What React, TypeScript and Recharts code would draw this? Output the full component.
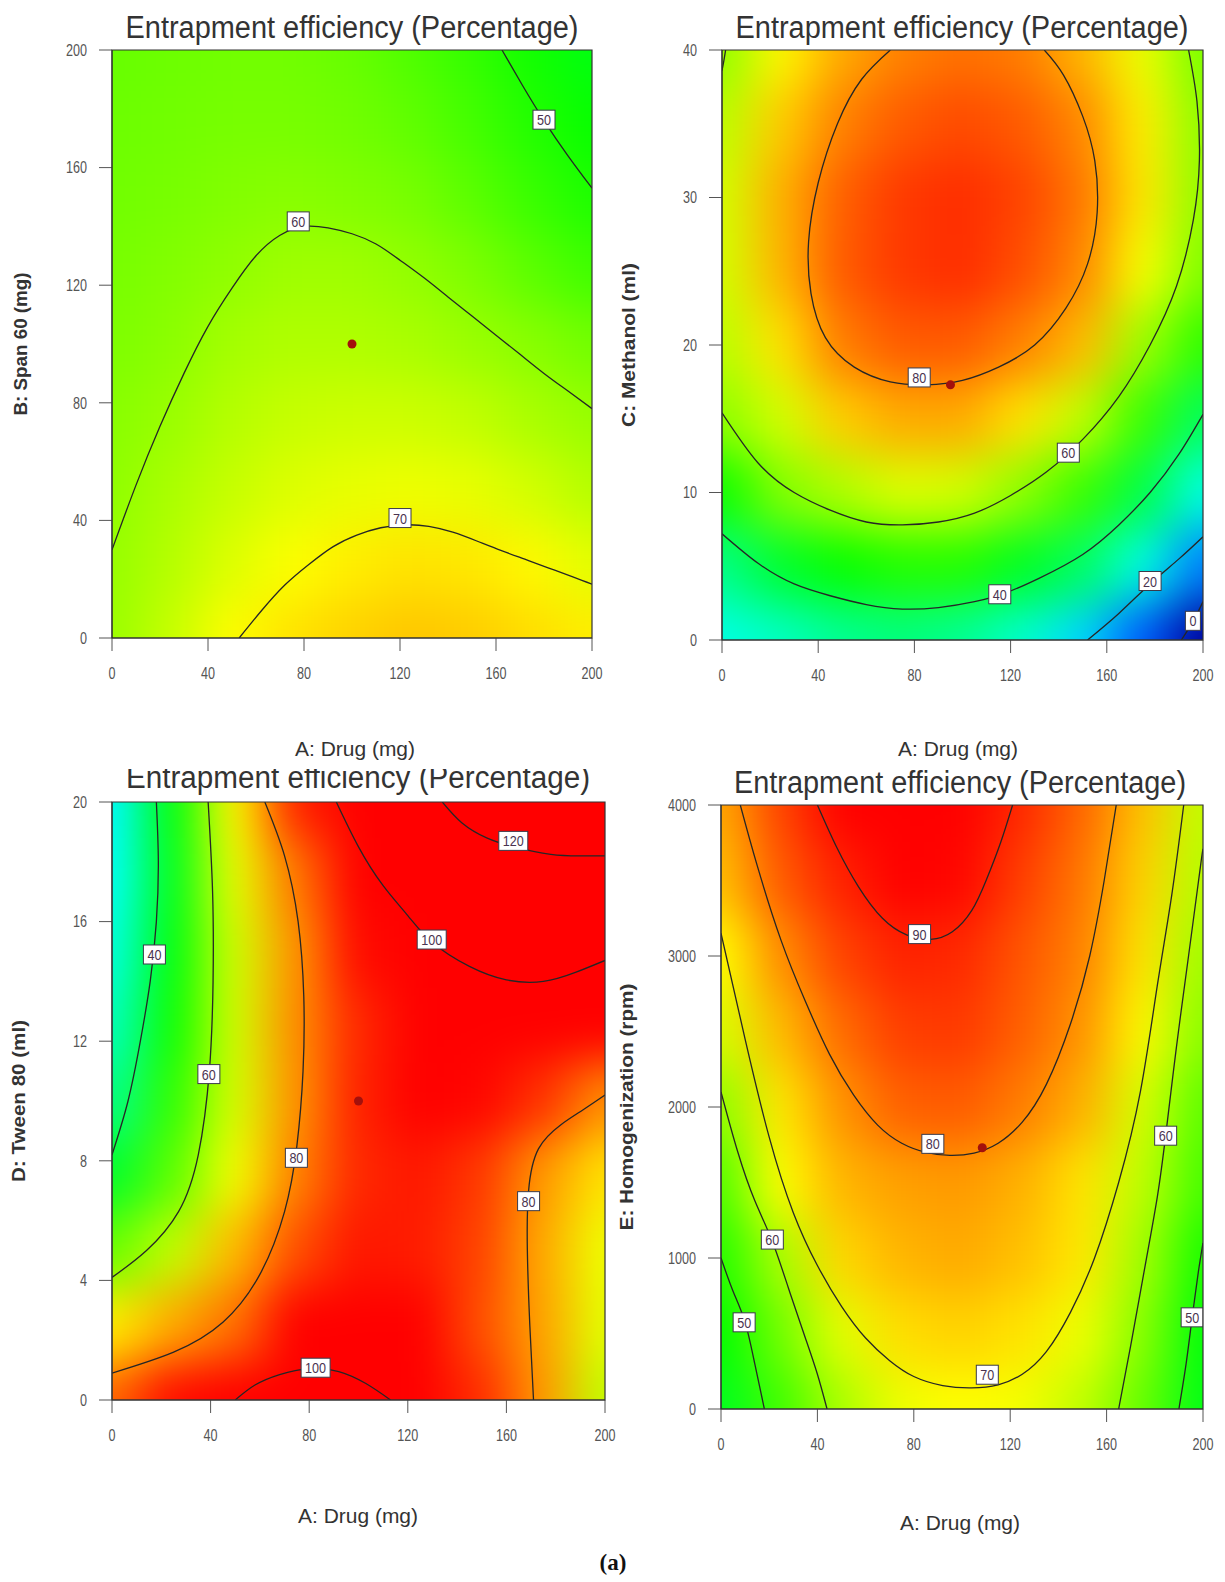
import React from 'react';
import { ComposedChart, XAxis, YAxis, Scatter, ReferenceArea } from 'recharts';

type Pt = { x: number; y: number };
type Lbl = { x: number; y: number; t: string };

// ---------------- data ----------------
const drugTicks = [0, 40, 80, 120, 160, 200];
const spanTicks = [0, 40, 80, 120, 160, 200];
const methanolTicks = [0, 10, 20, 30, 40];
const tweenTicks = [0, 4, 8, 12, 16, 20];
const homogTicks = [0, 1000, 2000, 3000, 4000];

const gridX = [0, 25, 50, 75, 100, 125, 150, 175, 200];

// Panel 1: A Drug vs B Span 60
const p1GridY = [200, 175, 150, 125, 100, 75, 50, 25, 0];
const p1Field = [
  [56, 56.5, 57, 57, 56, 54, 51.5, 48.5, 45.5],
  [56.5, 57, 57.5, 57.5, 57, 55.5, 53, 50, 47.5],
  [57, 57.5, 58.5, 59, 58.5, 57.5, 55, 52, 49.5],
  [57.5, 58.5, 59.7, 61, 61, 60, 58, 55, 52.5],
  [58, 59.3, 61.5, 62.5, 62.5, 62, 60.6, 59, 57],
  [59, 60.5, 63, 64.5, 65, 65, 64, 62, 60.2],
  [59.5, 62, 64.5, 66.5, 67.5, 68, 67.5, 65.5, 63],
  [60.2, 63, 66.5, 69.3, 71, 72, 71.5, 70, 67],
  [60.5, 64.5, 69.7, 72, 73.5, 74.5, 74, 72.5, 71],
];
const p1C50: Pt[] = [{ x: 162.5, y: 200 }, { x: 171, y: 188 }, { x: 180, y: 176 }, { x: 190, y: 164 }, { x: 200, y: 153 }];
const p1C60: Pt[] = [
  { x: 0, y: 30 }, { x: 10, y: 52 }, { x: 20, y: 72 }, { x: 30, y: 90 }, { x: 40, y: 106 }, { x: 50, y: 119 },
  { x: 60, y: 130 }, { x: 70, y: 137 }, { x: 80, y: 140 }, { x: 90, y: 139.5 }, { x: 100, y: 137.5 }, { x: 110, y: 134 },
  { x: 120, y: 128.5 }, { x: 130, y: 122.5 }, { x: 140, y: 116 }, { x: 150, y: 109.5 }, { x: 160, y: 103 },
  { x: 170, y: 96.5 }, { x: 180, y: 90 }, { x: 190, y: 84 }, { x: 200, y: 78 },
];
const p1C70: Pt[] = [
  { x: 53, y: 0 }, { x: 62, y: 9 }, { x: 72, y: 18 }, { x: 82, y: 25 }, { x: 92, y: 31 }, { x: 102, y: 35 },
  { x: 112, y: 37.5 }, { x: 122, y: 38.5 }, { x: 132, y: 38 }, { x: 142, y: 36 }, { x: 152, y: 33 },
  { x: 162, y: 29.8 }, { x: 172, y: 26.8 }, { x: 182, y: 23.8 }, { x: 192, y: 20.8 }, { x: 200, y: 18.3 },
];
const p1Labels: Lbl[] = [{ x: 180, y: 176.3, t: '50' }, { x: 77.6, y: 141.7, t: '60' }, { x: 120, y: 40.8, t: '70' }];
const p1Center: Pt[] = [{ x: 100, y: 100 }];

// Panel 2: A Drug vs C Methanol
const p2GridY = [40, 35, 30, 25, 20, 15, 10, 5, 0];
const p2Field = [
  [59.5, 70, 77, 80.5, 82, 81, 76, 68, 57.5],
  [63.5, 74, 80.5, 84, 85.5, 84, 80, 71, 59.5],
  [65.5, 76.5, 83.5, 87, 88, 86, 81.5, 71.5, 59.8],
  [65.5, 76, 84, 87, 88, 85, 80, 69, 58],
  [63.5, 72, 81, 84, 84, 80.5, 75.5, 61, 51],
  [59.5, 65.5, 74, 77, 77, 72, 64, 52, 39],
  [48, 58.5, 62.5, 66.5, 65.5, 59.5, 52, 41, 27],
  [35, 43, 47.5, 50, 50, 44, 38.5, 27, 13],
  [27, 30, 34, 36, 34, 29, 21, 10, -8],
];
const p2C80: Pt[] = [
  { x: 70, y: 40 }, { x: 58, y: 38 }, { x: 48, y: 35 }, { x: 40, y: 31 }, { x: 36, y: 27 }, { x: 37, y: 23.5 },
  { x: 43, y: 20.5 }, { x: 55, y: 18.5 }, { x: 70, y: 17.5 }, { x: 85, y: 17.3 }, { x: 100, y: 17.6 },
  { x: 115, y: 18.5 }, { x: 130, y: 20 }, { x: 143, y: 22.5 }, { x: 152, y: 25.5 }, { x: 156, y: 29 },
  { x: 155, y: 32.5 }, { x: 150, y: 35.5 }, { x: 142, y: 38.3 }, { x: 134, y: 40 },
];
const p2C60: Pt[] = [
  { x: 0, y: 15.4 }, { x: 15, y: 12 }, { x: 30, y: 10 }, { x: 45, y: 8.8 }, { x: 60, y: 8 }, { x: 75, y: 7.8 },
  { x: 90, y: 8 }, { x: 105, y: 8.6 }, { x: 120, y: 9.8 }, { x: 135, y: 11.4 }, { x: 150, y: 13.6 },
  { x: 165, y: 16.5 }, { x: 178, y: 20 }, { x: 189, y: 24 }, { x: 196, y: 28.5 }, { x: 198.5, y: 32.5 },
  { x: 197.5, y: 36.5 }, { x: 194, y: 40 },
];
const p2C60b: Pt[] = [{ x: 0, y: 38.6 }, { x: 0.8, y: 39.3 }, { x: 1.5, y: 40 }];
const p2C40: Pt[] = [
  { x: 0, y: 7.2 }, { x: 15, y: 5.2 }, { x: 30, y: 3.8 }, { x: 45, y: 3 }, { x: 60, y: 2.4 }, { x: 75, y: 2.1 },
  { x: 90, y: 2.2 }, { x: 105, y: 2.6 }, { x: 118, y: 3.2 }, { x: 132, y: 4.2 }, { x: 150, y: 5.8 },
  { x: 165, y: 7.8 }, { x: 178, y: 10 }, { x: 190, y: 12.6 }, { x: 200, y: 15.3 },
];
const p2C20: Pt[] = [{ x: 152, y: 0 }, { x: 165, y: 1.8 }, { x: 178, y: 3.8 }, { x: 190, y: 5.5 }, { x: 200, y: 7 }];
const p2C0: Pt[] = [{ x: 191, y: 0 }, { x: 196, y: 1.3 }, { x: 200, y: 2.6 }];
const p2Labels: Lbl[] = [
  { x: 82, y: 17.8, t: '80' }, { x: 144, y: 12.7, t: '60' }, { x: 115.5, y: 3.1, t: '40' },
  { x: 178, y: 4, t: '20' }, { x: 195.8, y: 1.3, t: '0' },
];
const p2Center: Pt[] = [{ x: 95, y: 17.3 }];

// Panel 3: A Drug vs D Tween 80
const p3GridY = [20, 17.5, 15, 12.5, 10, 7.5, 5, 2.5, 0];
const p3Field = [
  [24, 46, 70, 89, 104.5, 115.5, 123, 127, 129],
  [25, 45, 67.5, 81.5, 97.5, 105, 111, 115, 117],
  [27, 46, 65.5, 79, 91, 97.5, 102, 102, 101],
  [30, 48, 65.5, 79.5, 88.5, 93, 95, 95, 93],
  [35, 51, 66, 79, 89, 92.5, 91.5, 87.5, 79.5],
  [43, 55, 68.5, 80.5, 88.5, 90, 87, 78.5, 72],
  [56, 64, 75.5, 85, 90, 89.5, 86, 77, 68],
  [71, 77, 82, 92, 95, 92, 85, 77.5, 67],
  [83, 91, 100, 102.5, 102, 97, 88, 78.5, 64],
];
const p3C40: Pt[] = [{ x: 18, y: 20 }, { x: 18.8, y: 18 }, { x: 18, y: 16 }, { x: 15.5, y: 14 }, { x: 11.5, y: 12 }, { x: 6.5, y: 10 }, { x: 0, y: 8.2 }];
const p3C60: Pt[] = [{ x: 39, y: 20 }, { x: 40.8, y: 17 }, { x: 41, y: 14 }, { x: 39.5, y: 11 }, { x: 35, y: 8.2 }, { x: 27, y: 6.3 }, { x: 14, y: 5 }, { x: 0, y: 4.1 }];
const p3C80a: Pt[] = [
  { x: 62, y: 20 }, { x: 70, y: 18.2 }, { x: 75.5, y: 16 }, { x: 77.8, y: 13.5 }, { x: 77.5, y: 11 }, { x: 75, y: 8.5 },
  { x: 70, y: 6.3 }, { x: 60, y: 4.2 }, { x: 45, y: 2.6 }, { x: 25, y: 1.6 }, { x: 0, y: 0.9 },
];
const p3C80b: Pt[] = [{ x: 171, y: 0 }, { x: 169.5, y: 2.5 }, { x: 168.5, y: 5 }, { x: 169, y: 7 }, { x: 173, y: 8.4 }, { x: 182, y: 9.2 }, { x: 191, y: 9.7 }, { x: 200, y: 10.2 }];
const p3C100a: Pt[] = [{ x: 50, y: 0 }, { x: 58, y: 0.5 }, { x: 68, y: 0.85 }, { x: 80, y: 1.05 }, { x: 92, y: 0.95 }, { x: 103, y: 0.55 }, { x: 113, y: 0 }];
const p3C100b: Pt[] = [
  { x: 91, y: 20 }, { x: 100, y: 18.5 }, { x: 110, y: 17.2 }, { x: 120, y: 16.2 }, { x: 130, y: 15.3 }, { x: 145, y: 14.5 },
  { x: 160, y: 14.05 }, { x: 175, y: 14 }, { x: 188, y: 14.3 }, { x: 200, y: 14.7 },
];
const p3C120: Pt[] = [{ x: 134, y: 20 }, { x: 142, y: 19.3 }, { x: 152, y: 18.8 }, { x: 163, y: 18.5 }, { x: 178, y: 18.25 }, { x: 190, y: 18.2 }, { x: 200, y: 18.2 }];
const p3Labels: Lbl[] = [
  { x: 162.8, y: 18.7, t: '120' }, { x: 129.7, y: 15.4, t: '100' }, { x: 17.2, y: 14.9, t: '40' }, { x: 39.3, y: 10.9, t: '60' },
  { x: 74.8, y: 8.1, t: '80' }, { x: 169, y: 6.65, t: '80' }, { x: 82.6, y: 1.08, t: '100' },
];
const p3Center: Pt[] = [{ x: 100, y: 10 }];

// Panel 4: A Drug vs E Homogenization
const p4GridY = [4000, 3500, 3000, 2500, 2000, 1500, 1000, 500, 0];
const p4Field = [
  [77, 86, 92, 95, 94, 88.5, 83, 75, 64],
  [75, 84, 89, 92.5, 91.5, 86.5, 81.5, 73.5, 63],
  [69.5, 79.5, 86, 89, 88.5, 84.5, 80.5, 72, 61],
  [66, 75.5, 82.5, 86.5, 87, 83.5, 79, 70, 59],
  [59.5, 71.5, 79, 83.5, 84, 81, 76.5, 66, 55],
  [54, 69.5, 76, 78, 78.5, 76.5, 72, 64, 53],
  [50, 62, 73, 76, 77, 75, 71.5, 61.5, 49],
  [47, 57, 67, 72.5, 73.5, 72, 68, 59, 46],
  [44, 52.5, 62, 68, 69.5, 68.5, 64, 56, 45],
];
const p4C90: Pt[] = [
  { x: 40, y: 4000 }, { x: 48, y: 3720 }, { x: 57, y: 3460 }, { x: 67, y: 3250 }, { x: 77, y: 3140 }, { x: 87, y: 3110 },
  { x: 96, y: 3160 }, { x: 104, y: 3300 }, { x: 110, y: 3500 }, { x: 116, y: 3750 }, { x: 121, y: 4000 },
];
const p4C80: Pt[] = [
  { x: 8, y: 4000 }, { x: 15, y: 3600 }, { x: 25, y: 3100 }, { x: 35, y: 2700 }, { x: 45, y: 2350 }, { x: 55, y: 2080 },
  { x: 65, y: 1880 }, { x: 75, y: 1760 }, { x: 85, y: 1700 }, { x: 95, y: 1680 }, { x: 105, y: 1695 }, { x: 115, y: 1760 },
  { x: 125, y: 1900 }, { x: 135, y: 2150 }, { x: 145, y: 2550 }, { x: 153, y: 3000 }, { x: 159, y: 3500 }, { x: 164, y: 4000 },
];
const p4C70: Pt[] = [
  { x: 0, y: 3150 }, { x: 10, y: 2450 }, { x: 20, y: 1800 }, { x: 30, y: 1300 }, { x: 40, y: 950 }, { x: 50, y: 680 },
  { x: 60, y: 470 }, { x: 70, y: 320 }, { x: 80, y: 215 }, { x: 92, y: 155 }, { x: 104, y: 140 }, { x: 115, y: 160 },
  { x: 125, y: 230 }, { x: 135, y: 380 }, { x: 145, y: 640 }, { x: 155, y: 1000 }, { x: 165, y: 1500 }, { x: 174, y: 2100 },
  { x: 181, y: 2800 }, { x: 187, y: 3400 }, { x: 192, y: 4000 },
];
const p4C60L: Pt[] = [{ x: 0, y: 2100 }, { x: 7, y: 1700 }, { x: 14, y: 1380 }, { x: 21, y: 1122 }, { x: 28, y: 800 }, { x: 35, y: 470 }, { x: 40, y: 230 }, { x: 44, y: 0 }];
const p4C50L: Pt[] = [{ x: 0, y: 1000 }, { x: 5, y: 780 }, { x: 10, y: 574 }, { x: 14, y: 300 }, { x: 18, y: 0 }];
const p4C60R: Pt[] = [{ x: 165, y: 0 }, { x: 170, y: 420 }, { x: 176, y: 950 }, { x: 181, y: 1400 }, { x: 184.5, y: 1810 }, { x: 189, y: 2400 }, { x: 194, y: 3000 }, { x: 199, y: 3600 }, { x: 200, y: 3700 }];
const p4C50R: Pt[] = [{ x: 190, y: 0 }, { x: 193, y: 300 }, { x: 195.5, y: 607 }, { x: 198, y: 900 }, { x: 200, y: 1100 }];
const p4Labels: Lbl[] = [
  { x: 82.4, y: 3145, t: '90' }, { x: 87.9, y: 1756, t: '80' }, { x: 184.5, y: 1810, t: '60' }, { x: 21.3, y: 1122, t: '60' },
  { x: 9.6, y: 574, t: '50' }, { x: 110.5, y: 227, t: '70' }, { x: 195.5, y: 607, t: '50' },
];
const p4Center: Pt[] = [{ x: 108.4, y: 1730 }];

const titleText = 'Entrapment efficiency (Percentage)';
const xTitle = 'A: Drug (mg)';

// ---------------- helpers ----------------
function colorFor(v: number): string {
  const t = Math.max(0, Math.min(1, (v - 2) / 90));
  const hue = 240 * (1 - t);
  let light = 50;
  if (v < 10) light = Math.max(30, 50 - (10 - v) * 1.3);
  return `hsl(${hue.toFixed(1)},100%,${light}%)`;
}

function buildField(xs: number[], ys: number[], rows: number[][]) {
  const out: { x: number; y: number; v: number }[] = [];
  rows.forEach((row, i) => row.forEach((v, j) => out.push({ x: xs[j], y: ys[i], v })));
  return out;
}

const FONT = '"Liberation Sans", Arial, sans-serif';

const XTick = (props: any) => {
  const { x, y, payload } = props;
  const s = String(payload.value);
  return (
    <text x={x} y={y} dy="0.71em" textAnchor="middle" fontSize={16} fill="#555" fontFamily={FONT}
      textLength={s.length * 7} lengthAdjust="spacingAndGlyphs">{s}</text>
  );
};
const YTick = (props: any) => {
  const { x, y, payload } = props;
  const s = String(payload.value);
  return (
    <text x={x} y={y} dy="0.36em" textAnchor="end" fontSize={16} fill="#555" fontFamily={FONT}
      textLength={s.length * 7} lengthAdjust="spacingAndGlyphs">{s}</text>
  );
};

const LabelShape = (props: any) => {
  const { cx, cy, payload } = props;
  const n = payload.t.length;
  const w = n * 7 + 8;
  const h = 19;
  return (
    <g>
      <rect x={cx - w / 2} y={cy - h / 2} width={w} height={h} fill="#fff" stroke="#3a3a4a" strokeWidth={1} />
      <text x={cx} y={cy + 5.5} textAnchor="middle" fontSize={15} fill="#4a3350" fontFamily={FONT}
        textLength={n * 7} lengthAdjust="spacingAndGlyphs">{payload.t}</text>
    </g>
  );
};

const DotShape = (props: any) => {
  const { cx, cy } = props;
  return <circle cx={cx} cy={cy} r={4.5} fill="#a3100c" />;
};

const NoShape = () => <g />;

type PanelProps = {
  box: [number, number, number, number];
  xDomain: [number, number];
  yDomain: [number, number];
  xTicks: number[];
  yTicks: number[];
  gridY: number[];
  field: number[][];
  contours: Pt[][];
  labels: Lbl[];
  center: Pt[];
};

function Panel({ box, xDomain, yDomain, xTicks, yTicks, gridY, field, contours, labels, center }: PanelProps) {
  const [L, T, R, B] = box;
  const padL = 100, padT = 10, padR = 20, padB = 60;
  const W = R - L + padL + padR;
  const H = B - T + padT + padB;
  const cellW = (R - L) / (gridX.length - 1);
  const cellH = (B - T) / (gridY.length - 1);
  const data = buildField(gridX, gridY, field);
  const ext = 90;
  const CellShape = (props: any) => {
    const { cx, cy, payload } = props;
    let x0 = cx - cellW / 2 - 1, x1 = cx + cellW / 2 + 1, y0 = cy - cellH / 2 - 1, y1 = cy + cellH / 2 + 1;
    if (payload.x === xDomain[0]) x0 -= ext;
    if (payload.x === xDomain[1]) x1 += ext;
    if (payload.y === yDomain[1]) y0 -= ext;
    if (payload.y === yDomain[0]) y1 += ext;
    return <rect x={x0} y={y0} width={x1 - x0} height={y1 - y0} fill={colorFor(payload.v)} />;
  };
  return (
    <div style={{ position: 'absolute', left: L - padL, top: T - padT, width: W, height: H }}>
      <ComposedChart width={W} height={H} margin={{ top: padT, right: padR, bottom: 0, left: 0 }}>
        <XAxis type="number" dataKey="x" domain={xDomain} ticks={xTicks} allowDataOverflow interval={0}
          height={padB} tickSize={13} tickMargin={17} tick={<XTick />} stroke="#333"
          tickLine={{ stroke: '#555' }} axisLine={{ stroke: '#333' }} />
        <YAxis type="number" dataKey="y" domain={yDomain} ticks={yTicks} allowDataOverflow interval={0}
          width={padL} tickSize={13} tickMargin={12} tick={<YTick />} stroke="#333"
          tickLine={{ stroke: '#555' }} axisLine={{ stroke: '#333' }} />
        <Scatter data={data} shape={<CellShape />} isAnimationActive={false} className="field-layer" zIndex={-10} />
        {contours.map((c, i) => (
          <Scatter key={i} data={c} shape={<NoShape />} line={{ stroke: '#262626', strokeWidth: 1.3 }}
            lineJointType="natural" isAnimationActive={false} />
        ))}
        <ReferenceArea x1={xDomain[0]} x2={xDomain[1]} y1={yDomain[0]} y2={yDomain[1]} zIndex={650}
          fill="none" fillOpacity={0} stroke="#333" strokeWidth={1.2} ifOverflow="visible" />
        <Scatter data={center} shape={<DotShape />} isAnimationActive={false} />
        <Scatter data={labels} shape={<LabelShape />} isAnimationActive={false} />
      </ComposedChart>
    </div>
  );
}

const P1: [number, number, number, number] = [112, 50, 592, 638];
const P2: [number, number, number, number] = [722, 50, 1203, 640];
const P3: [number, number, number, number] = [112, 802, 605, 1400];
const P4: [number, number, number, number] = [721, 805, 1203, 1409];

export default function App() {
  const txt = { fontFamily: FONT, fill: '#333' };
  return (
    <div style={{ position: 'absolute', left: 0, top: 0, width: 1225, height: 1582, background: '#fff', overflow: 'hidden' }}>
      <style>{`.field-layer { filter: url(#fieldBlur); }`}</style>
      <svg width={0} height={0} style={{ position: 'absolute' }}>
        <defs>
          <filter id="fieldBlur" x="-30%" y="-30%" width="160%" height="160%" colorInterpolationFilters="sRGB">
            <feGaussianBlur stdDeviation={24} />
          </filter>
        </defs>
      </svg>
      <Panel box={P1} xDomain={[0, 200]} yDomain={[0, 200]} xTicks={drugTicks} yTicks={spanTicks}
        gridY={p1GridY} field={p1Field} contours={[p1C50, p1C60, p1C70]} labels={p1Labels} center={p1Center} />
      <Panel box={P2} xDomain={[0, 200]} yDomain={[0, 40]} xTicks={drugTicks} yTicks={methanolTicks}
        gridY={p2GridY} field={p2Field} contours={[p2C80, p2C60, p2C60b, p2C40, p2C20, p2C0]} labels={p2Labels} center={p2Center} />
      <Panel box={P3} xDomain={[0, 200]} yDomain={[0, 20]} xTicks={drugTicks} yTicks={tweenTicks}
        gridY={p3GridY} field={p3Field} contours={[p3C40, p3C60, p3C80a, p3C80b, p3C100a, p3C100b, p3C120]} labels={p3Labels} center={p3Center} />
      <Panel box={P4} xDomain={[0, 200]} yDomain={[0, 4000]} xTicks={drugTicks} yTicks={homogTicks}
        gridY={p4GridY} field={p4Field} contours={[p4C90, p4C80, p4C70, p4C60L, p4C50L, p4C60R, p4C50R]} labels={p4Labels} center={p4Center} />
      <svg width={1225} height={1582} style={{ position: 'absolute', left: 0, top: 0, pointerEvents: 'none' }}>
        <defs>
          <clipPath id="t3clip"><rect x={0} y={769} width={1225} height={60} /></clipPath>
        </defs>
        <text x={352} y={38} textAnchor="middle" fontSize={31} {...txt} textLength={453} lengthAdjust="spacingAndGlyphs">{titleText}</text>
        <text x={962} y={38} textAnchor="middle" fontSize={31} {...txt} textLength={453} lengthAdjust="spacingAndGlyphs">{titleText}</text>
        <g clipPath="url(#t3clip)">
          <text x={358} y={788} textAnchor="middle" fontSize={31} {...txt} textLength={464} lengthAdjust="spacingAndGlyphs">{titleText}</text>
        </g>
        <text x={960} y={793} textAnchor="middle" fontSize={31} {...txt} textLength={452} lengthAdjust="spacingAndGlyphs">{titleText}</text>

        <text x={355} y={756} textAnchor="middle" fontSize={20} {...txt} textLength={120} lengthAdjust="spacingAndGlyphs">{xTitle}</text>
        <text x={958} y={756} textAnchor="middle" fontSize={20} {...txt} textLength={120} lengthAdjust="spacingAndGlyphs">{xTitle}</text>
        <text x={358} y={1523} textAnchor="middle" fontSize={20} {...txt} textLength={120} lengthAdjust="spacingAndGlyphs">{xTitle}</text>
        <text x={960} y={1530} textAnchor="middle" fontSize={20} {...txt} textLength={120} lengthAdjust="spacingAndGlyphs">{xTitle}</text>

        <text transform="translate(27,344) rotate(-90)" textAnchor="middle" fontSize={18} fontWeight="bold" {...txt} textLength={143} lengthAdjust="spacingAndGlyphs">B: Span 60 (mg)</text>
        <text transform="translate(635,345) rotate(-90)" textAnchor="middle" fontSize={18} fontWeight="bold" {...txt} textLength={164} lengthAdjust="spacingAndGlyphs">C: Methanol (ml)</text>
        <text transform="translate(25,1101) rotate(-90)" textAnchor="middle" fontSize={18} fontWeight="bold" {...txt} textLength={162} lengthAdjust="spacingAndGlyphs">D: Tween 80 (ml)</text>
        <text transform="translate(633,1107) rotate(-90)" textAnchor="middle" fontSize={18} fontWeight="bold" {...txt} textLength={247} lengthAdjust="spacingAndGlyphs">E: Homogenization (rpm)</text>

        <text x={613} y={1570} textAnchor="middle" fontSize={23} fontWeight="bold" fontFamily='"Liberation Serif", "Times New Roman", serif' fill="#111">(a)</text>
      </svg>
    </div>
  );
}
